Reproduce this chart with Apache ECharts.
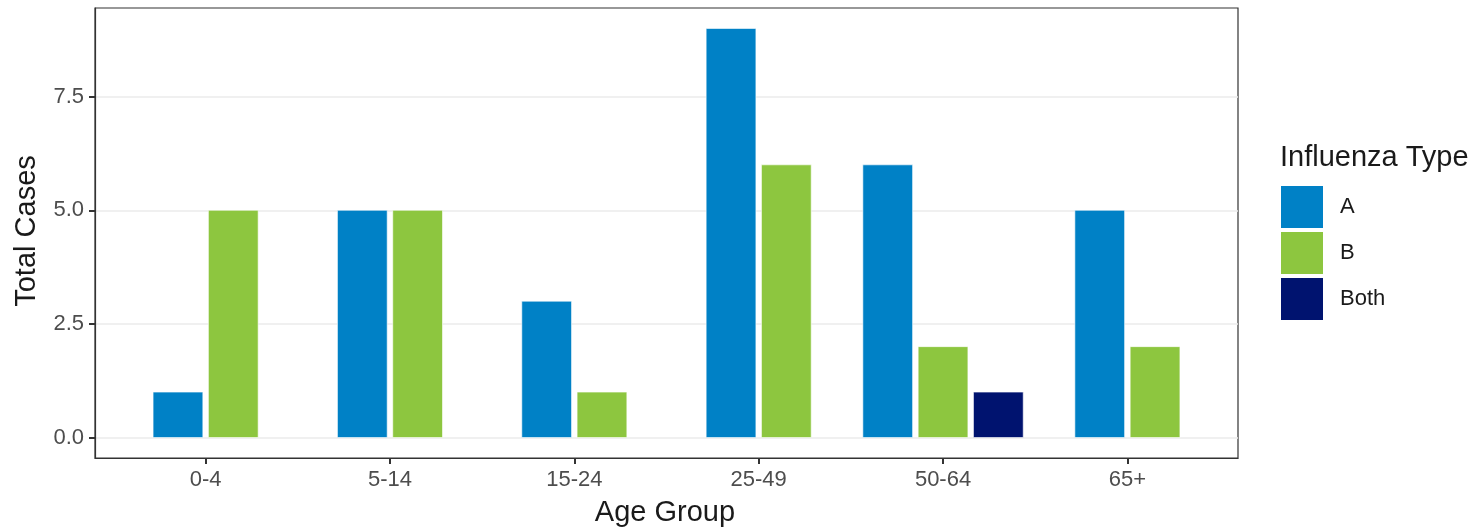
<!DOCTYPE html>
<html><head><meta charset="utf-8">
<script src="https://cdn.jsdelivr.net/npm/echarts@6/dist/echarts.min.js"></script>
<style>html,body{margin:0;padding:0;background:#fff}#c{width:1472px;height:527px}</style>
</head><body><div id="c"></div>
<script>
const categories = ["0-4","5-14","15-24","25-49","50-64","65+"];
const typeNames = ["A","B","Both"];
const valuesA = [1,5,3,9,6,5];
const valuesB = [5,5,1,6,2,2];
const valuesBoth = [0,0,0,0,1,0];
const yTicks = [0,2.5,5,7.5];
const colors = ["#0081C6","#8DC63F","#00136F"];

const allVals = [valuesA, valuesB, valuesBoth];
function seriesData(t){
  const out = [];
  categories.forEach((c,i)=>{
    const present = allVals.map((v,k)=>v[i]>0?k:-1).filter(k=>k>=0);
    const slot = present.indexOf(t);
    if (slot>=0) out.push([i+1, allVals[t][i], slot, present.length]);
  });
  return out;
}
const slotW = 0.3, barW = 0.27;
function renderItem(params, api){
  const x = api.value(0), v = api.value(1), slot = api.value(2), n = api.value(3);
  const cx = x + (slot - (n-1)/2)*slotW;
  const p0 = api.coord([cx - barW/2, 0]);
  const p1 = api.coord([cx + barW/2, v]);
  return {type:'rect', shape:{x:p0[0], y:p1[1], width:p1[0]-p0[0], height:p0[1]-p1[1]},
    style:{fill:api.visual('color'), stroke:'rgba(255,255,255,0.6)', lineWidth:1}};
}
const chart = echarts.init(document.getElementById('c'), null, {renderer:'canvas'});
const font = 'Liberation Sans, Arial, sans-serif';
chart.setOption({
  animation:false,
  grid:{left:95, right:234, top:8, bottom:69, show:true, borderColor:'#333', borderWidth:1.2, backgroundColor:'#fff'},
  xAxis:{type:'value', min:0.4, max:6.6,
    axisLine:{show:true, onZero:false, lineStyle:{color:'#333', width:1.2}},
    axisTick:{show:true, inside:false, length:6, customValues:[1,2,3,4,5,6], lineStyle:{color:'#333', width:2}},
    axisLabel:{customValues:[1,2,3,4,5,6], formatter:v=>categories[Math.round(v)-1]||'', fontSize:22, color:'#4d4d4d', fontFamily:font, margin:11},
    splitLine:{show:false}},
  yAxis:{type:'value', min:-0.45, max:9.45,
    axisLine:{show:true, onZero:false, lineStyle:{color:'#333', width:1.2}},
    axisTick:{show:true, inside:false, length:6, customValues:yTicks, lineStyle:{color:'#333', width:2}},
    axisLabel:{customValues:yTicks, formatter:v=>v.toFixed(1), fontSize:22, color:'#4d4d4d', fontFamily:font, margin:11},
    splitLine:{show:true, lineStyle:{color:'#ebebeb', width:1.5}}},
  legend:{left:1281, top:186, padding:0, orient:'vertical', icon:'rect', itemWidth:42, itemHeight:42, itemGap:4,
    data:typeNames, textStyle:{fontSize:22, color:'#1a1a1a', fontFamily:font, padding:[0,0,0,12]}, selectedMode:false},
  graphic:[
    {type:'text', left:1280, top:143, style:{text:'Influenza Type', fontSize:29, fill:'#1a1a1a', fontFamily:font}},
    {type:'text', x:27, y:231, rotation:Math.PI/2, style:{text:'Total Cases', fontSize:29, fill:'#1a1a1a', fontFamily:font, align:'center', verticalAlign:'middle'}},
    {type:'text', x:665, y:513, style:{text:'Age Group', fontSize:29, fill:'#1a1a1a', fontFamily:font, align:'center', verticalAlign:'middle'}}
  ],
  series: typeNames.map((nm,t)=>({name:nm, type:'custom', renderItem, itemStyle:{color:colors[t]},
    encode:{x:0,y:1}, data:seriesData(t)}))
});
</script></body></html>
